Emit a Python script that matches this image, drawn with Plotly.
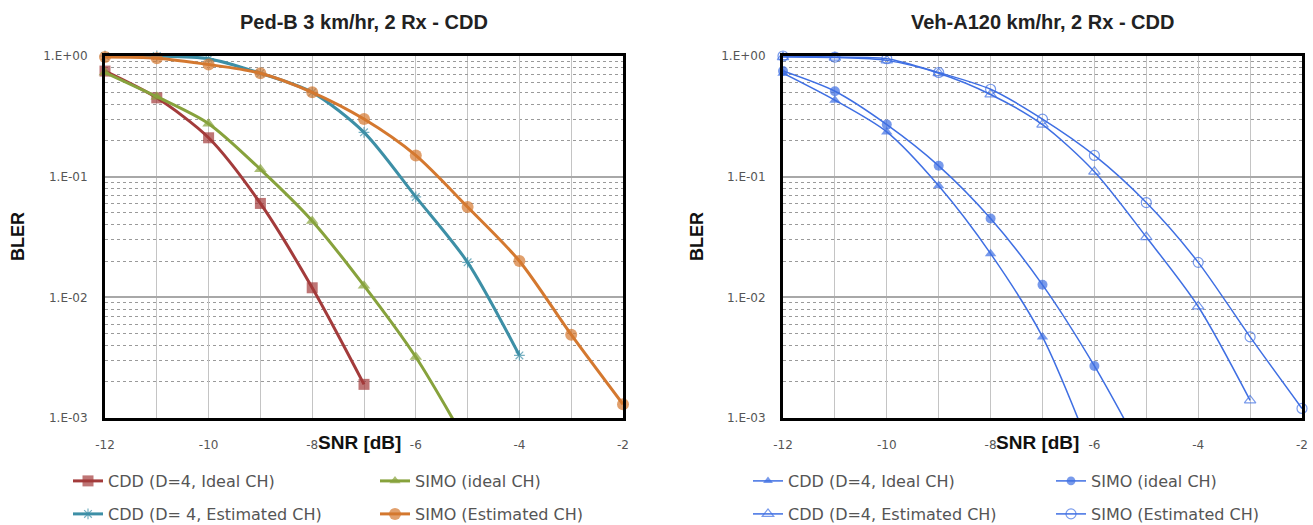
import plotly.graph_objects as go

W, H = 1313, 525

snr = [-12, -11, -10, -9, -8, -7, -6, -5, -4, -3, -2]

# Left chart: Ped-B 3 km/hr
pb_cdd_ideal = [0.75, 0.45, 0.21, 0.06, 0.012, 0.0019]
pb_simo_ideal = [0.73, 0.46, 0.275, 0.115, 0.043, 0.0125, 0.0032, 0.0006]
pb_cdd_est = [1.0, 1.0, 0.95, 0.72, 0.5, 0.233, 0.068, 0.0195, 0.0033]
pb_simo_est = [0.98, 0.96, 0.85, 0.72, 0.5, 0.30, 0.15, 0.056, 0.02, 0.0049, 0.0013]

# Right chart: Veh-A 120 km/hr
va_cdd_ideal = [0.72, 0.43, 0.235, 0.084, 0.023, 0.0047, 0.00045]
va_simo_ideal = [0.75, 0.51, 0.27, 0.123, 0.045, 0.0127, 0.0027, 0.00045]
va_cdd_est = [0.98, 0.97, 0.92, 0.72, 0.48, 0.27, 0.11, 0.0316, 0.0084, 0.0014]
va_simo_est = [1.0, 0.98, 0.95, 0.73, 0.53, 0.30, 0.15, 0.061, 0.0195, 0.0047, 0.0012]

titles = ["Ped-B 3 km/hr, 2 Rx - CDD", "Veh-A120 km/hr, 2 Rx - CDD"]
left_names = ["CDD (D=4, Ideal CH)", "SIMO (ideal CH)", "CDD (D= 4, Estimated CH)", "SIMO (Estimated CH)"]
right_names = ["CDD (D=4, Ideal CH)", "SIMO (ideal CH)", "CDD (D=4, Estimated CH)", "SIMO (Estimated CH)"]
xtick_vals = [-12, -10, -8, -6, -4, -2]
xtick_text = ["-12", "-10", "-8", "-6", "-4", "-2"]
ytick_vals = [1, 0.1, 0.01, 0.001]
ytick_text = ["1.E+00", "1.E-01", "1.E-02", "1.E-03"]

RED, GREEN, TEAL, ORANGE = "#A33B3B", "#87A23C", "#3D8FA6", "#D4782F"
BLUE = "#3F6FE3"

# plot-area pixel geometry
L1, R1, L2, R2 = 105, 623, 783, 1302
TOP, BOT = 56, 418


def px(x):
    return x / W


def py(y):
    return 1 - y / H


fig = go.Figure()


def sizes(vals, s):
    return [s if v >= 1e-3 else 0 for v in vals]


def add(vals, name, color, symbol, msize, lw, xa, ya, legend, mline=0):
    fig.add_trace(go.Scatter(
        x=snr[:len(vals)], y=vals, name=name, mode="lines+markers",
        line=dict(color=color, width=lw, shape="spline", smoothing=0.8),
        marker=dict(symbol=symbol, size=sizes(vals, msize), color=color,
                    line=dict(color=color, width=mline)),
        xaxis=xa, yaxis=ya, legend=legend, cliponaxis=False,
    ))


add(pb_cdd_ideal, left_names[0], RED, "square", 11, 3, "x", "y", "legend")
add(pb_simo_ideal, left_names[1], GREEN, "triangle-up", 11, 3, "x", "y", "legend2")
add(pb_cdd_est, left_names[2], TEAL, "asterisk-open", 9, 3, "x", "y", "legend3", mline=1.2)
add(pb_simo_est, left_names[3], ORANGE, "circle", 12, 3, "x", "y", "legend4")

add(va_cdd_ideal, right_names[0], BLUE, "triangle-up", 10, 1.5, "x2", "y2", "legend5")
add(va_simo_ideal, right_names[1], BLUE, "circle", 10, 1.5, "x2", "y2", "legend6")
add(va_cdd_est, right_names[2], BLUE, "triangle-up-open", 10, 1.5, "x2", "y2", "legend7", mline=1.2)
add(va_simo_est, right_names[3], BLUE, "circle-open", 10, 1.5, "x2", "y2", "legend8", mline=1.2)

minor_vals = [m * 10 ** e for e in (-3, -2, -1) for m in range(2, 10)]

tickfont = dict(family="DejaVu Sans", size=12, color="#555")


def xaxis(dom, anchor):
    return dict(domain=dom, anchor=anchor, type="linear", range=[-12, -2],
                tickvals=xtick_vals, ticktext=xtick_text,
                tickfont=tickfont, showgrid=True, gridcolor="#c4c4c4", gridwidth=1,
                minor=dict(dtick=1, tick0=-12, showgrid=True, gridcolor="#c4c4c4", gridwidth=1),
                showline=True, linecolor="black", linewidth=3, mirror=True,
                zeroline=False, ticks="", ticklabelstandoff=14, fixedrange=True,
                automargin=False)


def yaxis(anchor):
    return dict(domain=[py(BOT), py(TOP)], type="log", range=[-3, 0], anchor=anchor,
                tickvals=ytick_vals, ticktext=ytick_text, tickfont=tickfont,
                showgrid=True, gridcolor="#a8a8a8", gridwidth=2,
                minor=dict(tickvals=minor_vals, showgrid=True, gridcolor="#9a9a9a",
                           griddash="dot", gridwidth=1),
                showline=True, linecolor="black", linewidth=3, mirror=True,
                zeroline=False, ticks="", ticklabelstandoff=12, fixedrange=True,
                automargin=False)


layout = dict(
    width=W, height=H, margin=dict(l=0, r=0, t=0, b=0, autoexpand=False),
    paper_bgcolor="white", plot_bgcolor="white",
    xaxis=xaxis([px(L1), px(R1)], "y"), yaxis=yaxis("x"),
    xaxis2=xaxis([px(L2), px(R2)], "y2"), yaxis2=yaxis("x2"),
    showlegend=True,
)

legfont = dict(family="DejaVu Sans", size=16, color="#555")
leg_pos = [(110, 481), (417, 481), (110, 514), (417, 514),
           (790, 481), (1093, 481), (790, 514), (1093, 514)]
for i, (tx, ty) in enumerate(leg_pos):
    key = "legend" if i == 0 else f"legend{i + 1}"
    layout[key] = dict(x=px(tx - 42), y=py(ty), xanchor="left", yanchor="middle",
                       xref="container", yref="container",
                       font=legfont, bgcolor="rgba(0,0,0,0)", borderwidth=0)

fig.update_layout(**layout)

ann = []
for t, (a, b) in zip(titles, [(L1, R1), (L2, R2)]):
    ann.append(dict(text="<b>" + t + "</b>", x=px((a + b) / 2), y=py(22), xref="paper", yref="paper",
                    showarrow=False, font=dict(family="Liberation Sans", size=20, color="#222"),
                    xanchor="center", yanchor="middle"))
for xc in (359, 1037):
    ann.append(dict(text="<b>SNR [dB]</b>", x=px(xc), y=py(442), xref="paper", yref="paper",
                    showarrow=False, font=dict(family="Liberation Sans", size=19, color="#111"),
                    xanchor="center", yanchor="middle"))
for xc in (18, 697):
    ann.append(dict(text="<b>BLER</b>", x=px(xc), y=py(237), xref="paper", yref="paper",
                    showarrow=False, textangle=-90,
                    font=dict(family="Liberation Sans", size=18, color="#111"),
                    xanchor="center", yanchor="middle"))
fig.update_layout(annotations=ann)

fig.write_html("out.html", config={"displayModeBar": False},
               post_script="document.body.style.margin='0';document.body.style.overflow='hidden';")
